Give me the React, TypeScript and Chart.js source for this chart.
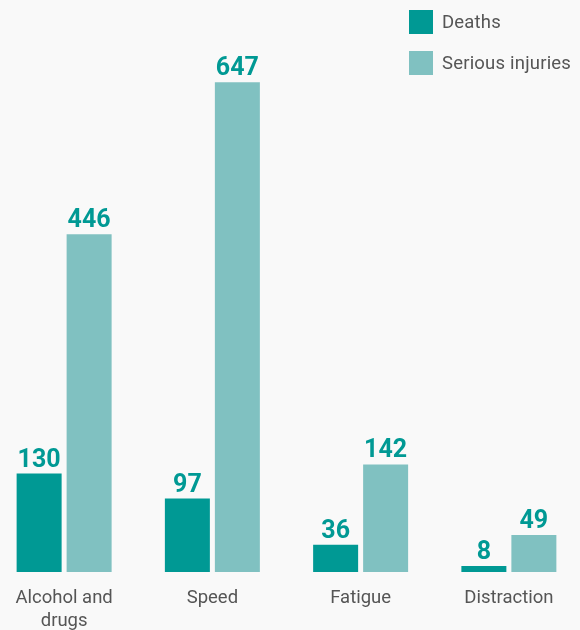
import React, { useEffect, useRef } from "react";
import { Chart, registerables } from "chart.js";

Chart.register(...registerables);

const categories: (string | string[])[] = [["Alcohol and", "drugs"], "Speed", "Fatigue", "Distraction"];
const deaths = [130, 97, 36, 8];
const seriousInjuries = [446, 647, 142, 49];
const seriesNames = ["Deaths", "Serious injuries"];
const seriesColors = ["#009994", "#80c1c1"];
const labelColor = "#009994";
const textColor = "#555555";

const valueLabels = {
  id: "valueLabels",
  afterDatasetsDraw(chart: any) {
    const ctx = chart.ctx;
    ctx.save();
    ctx.font = "bold 25px Roboto";
    ctx.fillStyle = labelColor;
    ctx.textAlign = "center";
    ctx.textBaseline = "alphabetic";
    chart.data.datasets.forEach((ds: any, i: number) => {
      const meta = chart.getDatasetMeta(i);
      meta.data.forEach((el: any, j: number) => {
        ctx.fillText(String(ds.data[j]), el.x, el.y - 7);
      });
    });
    ctx.restore();
  },
};

export default function App() {
  const ref = useRef<HTMLCanvasElement>(null);
  useEffect(() => {
    if (!ref.current) return;
    const chart = new Chart(ref.current, {
      type: "bar",
      data: {
        labels: categories,
        datasets: [
          { label: seriesNames[0], data: deaths, backgroundColor: seriesColors[0] },
          { label: seriesNames[1], data: seriousInjuries, backgroundColor: seriesColors[1] },
        ],
      },
      options: {
        animation: false,
        responsive: true,
        maintainAspectRatio: false,
        categoryPercentage: 0.6745,
        barPercentage: 0.9,
        layout: { padding: { top: 42, left: 0, right: 0, bottom: 0 } },
        plugins: { legend: { display: false }, tooltip: { enabled: false } },
        scales: {
          x: {
            grid: { display: false, drawTicks: false },
            border: { display: false },
            ticks: {
              color: textColor,
              font: { family: "Roboto", size: 18.5, lineHeight: 1.25 },
              padding: 15,
              maxRotation: 0,
              autoSkip: false,
            },
            afterFit(scale: any) {
              scale.height = 58;
            },
          },
          y: {
            display: false,
            min: 0,
            max: 700,
          },
        },
      } as any,
      plugins: [valueLabels],
    });
    return () => chart.destroy();
  }, []);

  return (
    <div
      style={{
        position: "fixed",
        left: 0,
        top: 0,
        width: 580,
        height: 630,
        overflow: "hidden",
        background: "#f9f9f9",
        fontFamily: "Roboto",
      }}
    >
      <div style={{ position: "absolute", left: -10, top: 0, width: 593, height: 630 }}>
        <canvas ref={ref} />
      </div>
      {seriesNames.map((name, i) => (
        <div
          key={name}
          style={{
            position: "absolute",
            left: 409,
            top: 10 + i * 41,
            height: 24,
            display: "flex",
            alignItems: "center",
            whiteSpace: "nowrap",
          }}
        >
          <span style={{ width: 24, height: 24, background: seriesColors[i], display: "inline-block" }} />
          <span style={{ marginLeft: 9, fontSize: 18.5, color: textColor, letterSpacing: 0.2 }}>{name}</span>
        </div>
      ))}
    </div>
  );
}
